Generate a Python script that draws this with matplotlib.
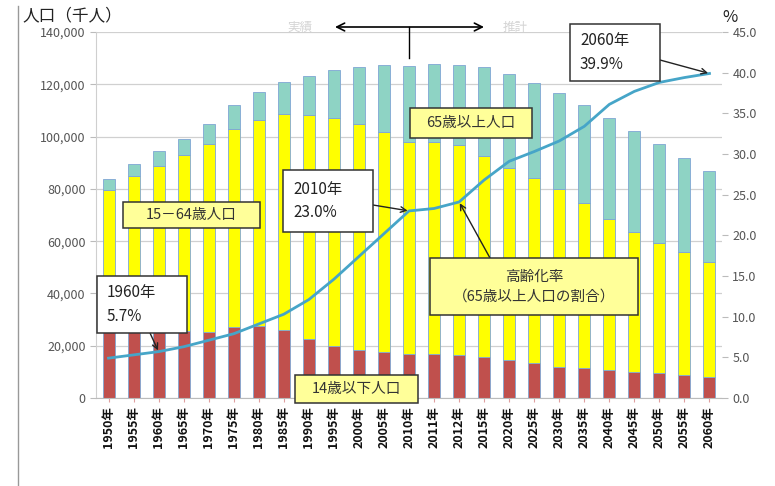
import numpy as np
import matplotlib
matplotlib.use("Agg")
import matplotlib.pyplot as plt
from matplotlib.patches import Rectangle

plt.rcParams['font.family'] = ['Noto Sans CJK JP', 'DejaVu Sans']

years = ["1950年", "1955年", "1960年", "1965年", "1970年", "1975年", "1980年",
         "1985年", "1990年", "1995年", "2000年", "2005年", "2010年", "2011年",
         "2012年", "2015年", "2020年", "2025年", "2030年", "2035年", "2040年",
         "2045年", "2050年", "2055年", "2060年"]
# population by age group (thousands)
age_0_14 = [29786, 30123, 28434, 25529, 25153, 27221, 27507, 26033, 22486, 20014,
            18472, 17521, 16803, 16705, 16547, 15827, 14568, 13240, 12039, 11287,
            10732, 10116, 9387, 8614, 7912]
age_15_64 = [49661, 54729, 60469, 67444, 72119, 75807, 78835, 82506, 85904, 87165,
             86220, 84092, 81032, 81342, 80175, 76818, 73408, 70845, 67730, 63430,
             57866, 53531, 50013, 47063, 44183]
age_65_up = [4155, 4786, 5398, 6236, 7393, 8865, 10647, 12468, 14895, 18261,
             22005, 25672, 29246, 29752, 30793, 33952, 36124, 36573, 36849, 37407,
             38678, 38564, 37676, 36257, 34642]
# share of 65+ (%)
aging_rate = [4.9, 5.3, 5.7, 6.3, 7.1, 7.9, 9.1, 10.3, 12.1, 14.6, 17.4, 20.2,
              23.0, 23.3, 24.1, 26.8, 29.1, 30.3, 31.6, 33.4, 36.1, 37.7, 38.8,
              39.4, 39.9]

W, H = 775, 486
fig = plt.figure(figsize=(W / 100, H / 100), dpi=100)
ax = fig.add_axes([96 / W, 1 - 398 / H, (722 - 96) / W, (398 - 32) / H])
ax2 = ax.twinx()

def fx(px):
    return px / W

def fy(py):
    return 1 - py / H

x = np.arange(len(years))
a = np.array(age_0_14)
b = np.array(age_15_64)
c = np.array(age_65_up)
bw = 0.48
edge = dict(edgecolor="#7fa6d4", linewidth=0.6)
ax.bar(x, a, bw, color="#c0504d", zorder=2, **edge)
ax.bar(x, b, bw, bottom=a, color="#ffff00", zorder=2, **edge)
ax.bar(x, c, bw, bottom=a + b, color="#8ed3c4", zorder=2, **edge)

ax.set_xlim(-0.5, len(years) - 0.5)
ax.set_ylim(0, 140000)
ax.set_yticks(np.arange(0, 140001, 20000))
ax.yaxis.set_major_formatter(matplotlib.ticker.FuncFormatter(lambda v, p: f"{int(v):,}"))
ax.grid(axis="y", color="#d0d0d0", linewidth=0.9, zorder=0)
ax.set_axisbelow(True)
ax.set_xticks(x)
ax.set_xticklabels(years, rotation=90, fontsize=9, color="#111111", fontweight="bold")
ax.tick_params(axis="y", labelsize=9, colors="#555555", length=4, color="#bbbbbb")
ax.tick_params(axis="x", length=3, color="#e0a0a0", pad=3)
for s in ["top", "right"]:
    ax.spines[s].set_visible(False)
ax.spines["left"].set_color("#cfcfcf")
ax.spines["bottom"].set_color("#bbbbbb")

ax2.plot(x, aging_rate, color="#46a5c8", linewidth=2, zorder=3, solid_joinstyle="round")
ax2.set_ylim(0, 45)
ax2.set_yticks(np.arange(0, 45.1, 5))
ax2.yaxis.set_major_formatter(matplotlib.ticker.FormatStrFormatter("%.1f"))
ax2.tick_params(axis="y", labelsize=9, colors="#555555", length=4, color="#bbbbbb")
for s in ["top", "right", "left", "bottom"]:
    ax2.spines[s].set_visible(False)

# axis titles
fig.text(fx(22), fy(16), "人口（千人）", fontsize=12, va="center", ha="left", color="#222222")
fig.text(fx(722), fy(17), "%", fontsize=12, va="center", ha="left", color="#222222")

# left frame line
fig.add_artist(plt.Line2D([fx(18), fx(18)], [fy(6), fy(486)], color="#999999", linewidth=1))

# actual / projection marker at top
ax2.annotate("", xy=(fx(335), fy(27)), xytext=(fx(484), fy(27)),
             xycoords="figure fraction", textcoords="figure fraction",
             arrowprops=dict(arrowstyle="<->", color="black", lw=1.2,
                             shrinkA=0, shrinkB=0, mutation_scale=14))
fig.add_artist(plt.Line2D([fx(409), fx(409)], [fy(27), fy(58)], color="black", linewidth=1))
fig.text(fx(300), fy(27), "実績", fontsize=9, ha="center", va="center", color="#d4d4d4")
fig.text(fx(515), fy(27), "推計", fontsize=9, ha="center", va="center", color="#d4d4d4")


def box(x0, y0, x1, y1, face):
    fig.add_artist(Rectangle((fx(x0), fy(y1)), fx(x1) - fx(x0), fy(y0) - fy(y1),
                             transform=fig.transFigure, facecolor=face,
                             edgecolor="#333333", linewidth=1.1, zorder=5))


# callouts with values on the rate line
callouts = [
    ((97, 276, 187, 333), "1960年\n5.7%", 2, (150, 333)),
    ((283, 170, 373, 232), "2010年\n23.0%", 12, (373, 205)),
    ((570, 24, 660, 81), "2060年\n39.9%", 24, (660, 60)),
]
for (x0, y0, x1, y1), label, idx, start in callouts:
    ax2.annotate("", xy=(idx, aging_rate[idx]), xytext=(fx(start[0]), fy(start[1])),
                 textcoords="figure fraction",
                 arrowprops=dict(arrowstyle="->", color="#222222", lw=1,
                                 shrinkA=0, shrinkB=1))
    box(x0, y0, x1, y1, "white")
    fig.text(fx(x0 + 10), fy((y0 + y1) / 2), label, fontsize=11, ha="left", va="center",
             linespacing=1.5, color="#222222", zorder=6)

# group labels
ax2.annotate("", xy=(14, aging_rate[14]), xytext=(fx(490), fy(258)),
             textcoords="figure fraction",
             arrowprops=dict(arrowstyle="->", color="#222222", lw=1, shrinkA=0, shrinkB=1))
labels = [
    ((123, 202, 260, 228), "15－64歳人口"),
    ((410, 108, 532, 138), "65歳以上人口"),
    ((295, 375, 418, 403), "14歳以下人口"),
    ((430, 258, 638, 315), "高齢化率\n（65歳以上人口の割合）"),
]
for (x0, y0, x1, y1), label in labels:
    box(x0, y0, x1, y1, "#ffff99")
    fig.text(fx((x0 + x1) / 2), fy((y0 + y1) / 2), label, fontsize=10.5, ha="center",
             va="center", linespacing=1.5, color="#333333", zorder=6)

fig.savefig("out.png", dpi=100)
